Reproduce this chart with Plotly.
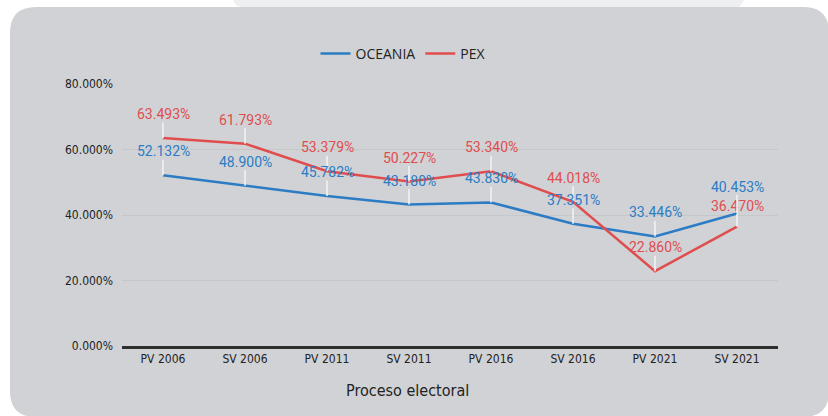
import plotly.graph_objects as go

categories = ["PV 2006", "SV 2006", "PV 2011", "SV 2011", "PV 2016", "SV 2016", "PV 2021", "SV 2021"]
oceania = [52.132, 48.900, 45.782, 43.180, 43.830, 37.351, 33.446, 40.453]
pex = [63.493, 61.793, 53.379, 50.227, 53.340, 44.018, 22.860, 36.470]
y_ticks = [0, 20, 40, 60, 80]

BLUE = "#2b7cc4"
RED = "#e04d4d"
W, H = 828, 416
ML, MR, MT, MB = 122, 50, 84, 70
PW, PH = W - ML - MR, H - MT - MB


def px(x):
    return (x - ML) / PW


def py(y):
    return (H - MB - y) / PH


fig = go.Figure()
fig.add_trace(go.Scatter(x=categories, y=oceania, name="OCEANIA", mode="lines",
                         line=dict(color=BLUE, width=2.5)))
fig.add_trace(go.Scatter(x=categories, y=pex, name="PEX", mode="lines",
                         line=dict(color=RED, width=2.5)))

annotations = []
for name, series, color in (("PEX", pex, RED), ("OCEANIA", oceania, BLUE)):
    for i, (c, v) in enumerate(zip(categories, series)):
        ay = -24
        if i == 7:
            ay = -27 if name == "OCEANIA" else -21
        annotations.append(dict(
            x=c, y=v, xref="x", yref="y", text=f"{v:.3f}%",
            showarrow=True, arrowhead=0, arrowwidth=1.5, arrowcolor="#f4f4f4",
            ax=0, ay=ay, standoff=0, borderpad=0,
            font=dict(family="Roboto", size=14, color=color)))

TICKFONT = "Liberation Sans Narrow, DejaVu Sans Condensed"
annotations.append(dict(x=px(407), y=py(390), xref="paper", yref="paper",
                        text="Proceso electoral", showarrow=False,
                        xanchor="center", yanchor="middle",
                        font=dict(family=TICKFONT, size=16, color="#222")))

# rounded background card
x0, x1, y0, y1, r = 10, 829, 7, 417, 26
path = (f"M {px(x0+r)},{py(y0)} L {px(x1-r)},{py(y0)} "
        f"Q {px(x1)},{py(y0)} {px(x1)},{py(y0+r)} "
        f"L {px(x1)},{py(y1-r)} Q {px(x1)},{py(y1)} {px(x1-r)},{py(y1)} "
        f"L {px(x0+r)},{py(y1)} Q {px(x0)},{py(y1)} {px(x0)},{py(y1-r)} "
        f"L {px(x0)},{py(y0+r)} Q {px(x0)},{py(y0)} {px(x0+r)},{py(y0)} Z")
strip = (f"M {px(232)},{py(-2)} L {px(746)},{py(-2)} L {px(739)},{py(7)} "
         f"L {px(244)},{py(7)} Q {px(236)},{py(7)} {px(234)},{py(2)} Z")
shapes = [
    dict(type="path", xref="paper", yref="paper", path=path,
         fillcolor="#d1d2d6", line=dict(width=0), layer="below"),
    dict(type="path", xref="paper", yref="paper", path=strip,
         fillcolor="#eeeff1", line=dict(width=0), layer="below"),
]

fig.update_layout(
    width=W, height=H,
    margin=dict(l=ML, r=MR, t=MT, b=MB, pad=0),
    paper_bgcolor="white", plot_bgcolor="rgba(0,0,0,0)",
    showlegend=True,
    legend=dict(orientation="h", x=px(403), xanchor="center", y=py(54), yanchor="middle",
                font=dict(family="Open Sans", size=14, color="#222"),
                bgcolor="rgba(0,0,0,0)", itemwidth=30),
    xaxis=dict(range=[-0.5, 7.5], showgrid=False, showline=True, linecolor="#2e2e2e",
               linewidth=2.5, ticks="", tickfont=dict(family=TICKFONT, size=12, color="#222")),
    yaxis=dict(range=[0, 80], tickvals=y_ticks, ticktext=[f"{t:.3f}%" for t in y_ticks],
               showgrid=True, gridcolor="#c5c7c9", gridwidth=1, zeroline=False,
               ticks="", ticklabelstandoff=8,
               tickfont=dict(family=TICKFONT, size=12, color="#222")),
    annotations=annotations, shapes=shapes,
)

fig.write_html("out.html", config={"displayModeBar": False},
               post_script="document.body.style.margin='0';document.body.style.overflow='hidden';")
